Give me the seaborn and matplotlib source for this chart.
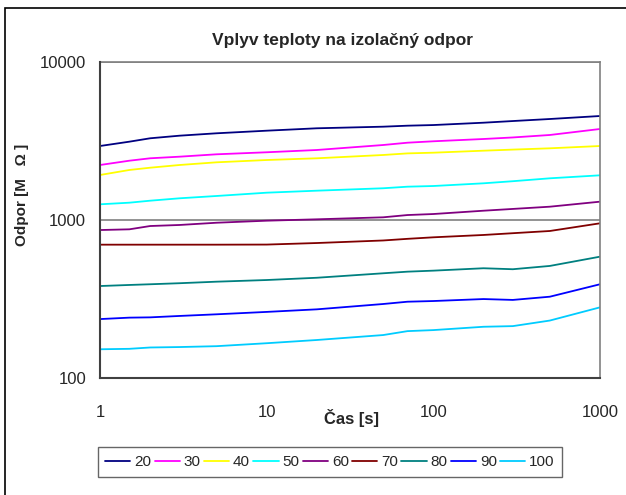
import matplotlib
matplotlib.use("Agg")
import matplotlib.pyplot as plt
import numpy as np
import pandas as pd
import seaborn as sns
from matplotlib.patches import Rectangle

# Measurement times [s]
time_s = [1, 1.5, 2, 3, 5, 10, 20, 50, 70, 100, 200, 300, 500, 1000]

# Insulation resistance [MOhm] for each temperature
r20 = [2940, 3131, 3290, 3417, 3538, 3675, 3806, 3896, 3953, 3990, 4129, 4230, 4357, 4552]
r30 = [2229, 2373, 2458, 2516, 2605, 2683, 2774, 2983, 3085, 3149, 3256, 3330, 3452, 3767]
r40 = [1927, 2073, 2143, 2229, 2318, 2397, 2458, 2579, 2640, 2667, 2746, 2790, 2843, 2940]
r50 = [1257, 1287, 1325, 1372, 1419, 1489, 1533, 1588, 1625, 1641, 1707, 1760, 1836, 1918]
r60 = [864, 873, 916, 930, 961, 990, 1010, 1040, 1075, 1091, 1145, 1175, 1214, 1306]
r70 = [698, 698, 698, 698, 698, 699, 715, 742, 760, 777, 804, 825, 852, 953]
r80 = [382, 388, 392, 398, 407, 417, 431, 460, 471, 478, 495, 488, 512, 586]
r90 = [236, 241, 242, 247, 253, 262, 272, 294, 304, 307, 316, 312, 327, 392]
r100 = [152, 153, 156, 157, 159, 166, 174, 187, 198, 201, 211, 213, 231, 280]

temps = ["20", "30", "40", "50", "60", "70", "80", "90", "100"]
series = [r20, r30, r40, r50, r60, r70, r80, r90, r100]
colors = ["#000080", "#FF00FF", "#FFFF00", "#00FFFF", "#800080",
          "#800000", "#008080", "#0000FF", "#00CCFF"]

y_ticks = [100, 1000, 10000]
y_tick_labels = ["100", "1000", "10000"]
x_ticks = [1, 10, 100, 1000]
x_tick_labels = ["1", "10", "100", "1000"]

df = pd.concat(
    [pd.DataFrame({"Čas": time_s, "Odpor": vals, "Teplota": t})
     for t, vals in zip(temps, series)],
    ignore_index=True,
)

sns.set_style("white")
plt.rcParams["font.family"] = ["Liberation Sans", "DejaVu Sans"]

W, H = 626, 495
fig = plt.figure(figsize=(W / 100, H / 100), dpi=100)
ax = fig.add_axes([100 / W, 1 - 378 / H, 500 / W, 316 / H])

sns.lineplot(data=df, x="Čas", y="Odpor", hue="Teplota", hue_order=temps,
             palette=dict(zip(temps, colors)), linewidth=1.3, ax=ax,
             legend=False, estimator=None)

ax.set_xscale("log")
ax.set_yscale("log")
ax.set_xlim(1, 1000)
ax.set_ylim(100, 10000)
ax.minorticks_off()
ax.set_xticks(x_ticks, labels=x_tick_labels)
ax.set_yticks(y_ticks, labels=y_tick_labels)
ax.tick_params(axis="both", which="major", direction="out", length=4, width=1,
               color="black", labelsize=12)
ax.tick_params(axis="x", pad=15.5)
ax.tick_params(axis="y", pad=6)

ax.yaxis.grid(True, color="#808080", linewidth=1.2)
ax.xaxis.grid(False)
for side in ("top", "right"):
    ax.spines[side].set_color("#808080")
    ax.spines[side].set_linewidth(1.2)
for side in ("left", "bottom"):
    ax.spines[side].set_color("#404040")
    ax.spines[side].set_linewidth(1.5)
ax.spines["left"].set_zorder(5)

ax.set_xlabel("")
ax.set_ylabel("")
fig.text(352 / W, 1 - 418 / H, "Čas [s]", ha="center", va="center",
         fontsize=12, fontweight="bold")
fig.text(22 / W, 1 - 195 / H, "Odpor [M   Ω ]", ha="center", va="center",
         rotation=90, fontsize=11, fontweight="bold")
fig.text(343 / W, 1 - 40 / H, "Vplyv teploty na izolačný odpor", ha="center",
         va="center", fontsize=12.5, fontweight="bold")

handles = [plt.Line2D([], [], color=c, linewidth=1.3) for c in colors]
leg = ax.legend(handles, temps, ncol=9, loc="center",
                bbox_to_anchor=(330 / W, 1 - 462 / H),
                bbox_transform=fig.transFigure, frameon=True, fancybox=False,
                edgecolor="#404040", fontsize=11, handlelength=1.65,
                handletextpad=0.25, columnspacing=0.22, borderpad=0.5,
                borderaxespad=0)
leg.get_frame().set_linewidth(1.0)

# outer chart border
fig.patches.append(Rectangle((5 / W, -0.2), 1.5, 1 - 8 / H + 0.2,
                             transform=fig.transFigure, fill=False,
                             edgecolor="black", linewidth=1.2))

fig.savefig("out.png", dpi=100)
